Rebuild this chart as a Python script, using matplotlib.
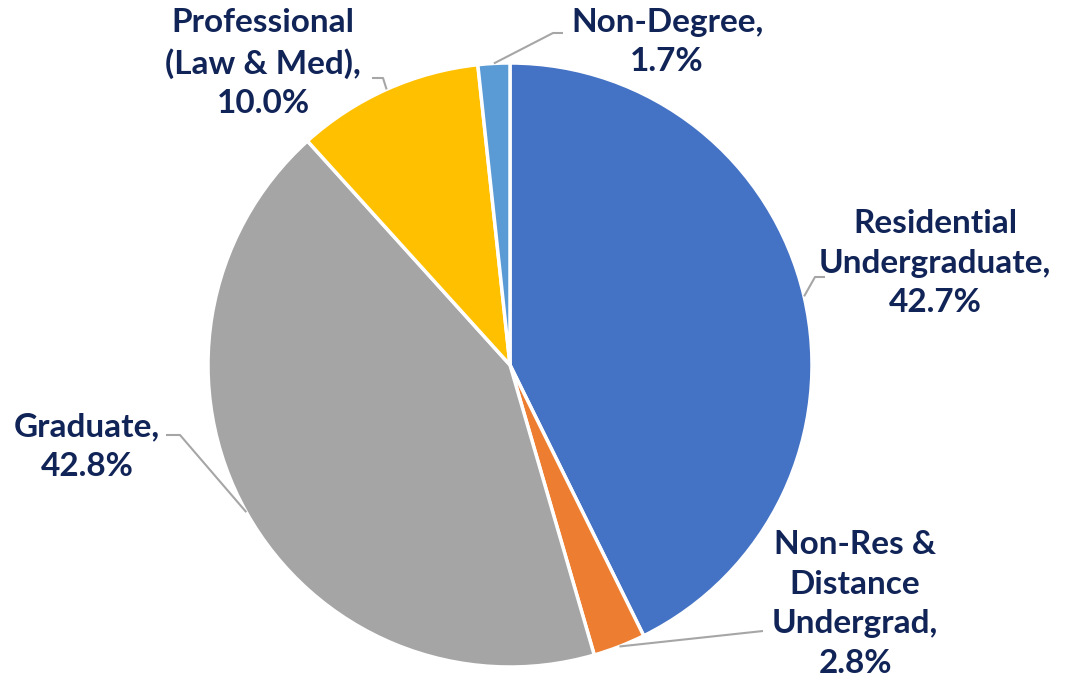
import numpy as np
import matplotlib
matplotlib.use('Agg')
import matplotlib.pyplot as plt

# data, clockwise from 12 o'clock
categories = ['Residential\nUndergraduate', 'Non-Res &\nDistance\nUndergrad', 'Graduate',
              'Professional\n(Law & Med)', 'Non-Degree']
shares = [42.7, 2.8, 42.8, 10.0, 1.7]
colors = ['#4472C4', '#ED7D31', '#A5A5A5', '#FFC000', '#5B9BD5']

W, H = 1070, 685
CX, CY, R = 510, 365, 302

# label centre, elbow point, line end next to text (pixel coords, y down)
label_pos = [(935, 263), (855, 604), (87, 447), (263, 63), (667, 42)]
elbows = [(815, 277), (763, 631), (180, 435), (383, 78), (553, 33)]
label_ends = [(825, 277), (763, 631), (166, 435), (372, 78), (563, 33)]

TEXT = '#112457'
LINE = '#A6A6A6'

fig = plt.figure(figsize=(W / 100, H / 100), dpi=100)
ax = fig.add_axes([0, 0, 1, 1])

wedges, _ = ax.pie(shares, colors=colors, startangle=90, counterclock=False,
                   center=(CX, H - CY), radius=R, frame=True,
                   wedgeprops=dict(edgecolor='white', linewidth=2.5))
ax.set_xlim(0, W)
ax.set_ylim(0, H)
ax.set_aspect('equal')
ax.axis('off')

# leader lines attach at each wedge's mid angle
cum = np.cumsum([0] + shares[:-1])
total = sum(shares)
for i, (cat, val) in enumerate(zip(categories, shares)):
    mid = np.deg2rad(90 - (cum[i] + val / 2) / total * 360)
    px = CX + R * np.cos(mid)
    py = H - CY + R * np.sin(mid)
    ex, ey = elbows[i]
    lx, ly = label_ends[i]
    ax.plot([px, ex, lx], [py, H - ey, H - ly], color=LINE, lw=1.5,
            solid_capstyle='butt', zorder=1)
    tx, ty = label_pos[i]
    ax.text(tx, H - ty, f'{cat},\n{val:.1f}%', ha='center', va='center',
            fontsize=24, fontweight='bold', family='Lato', color=TEXT,
            linespacing=1.44)

fig.savefig('out.png', dpi=100)
